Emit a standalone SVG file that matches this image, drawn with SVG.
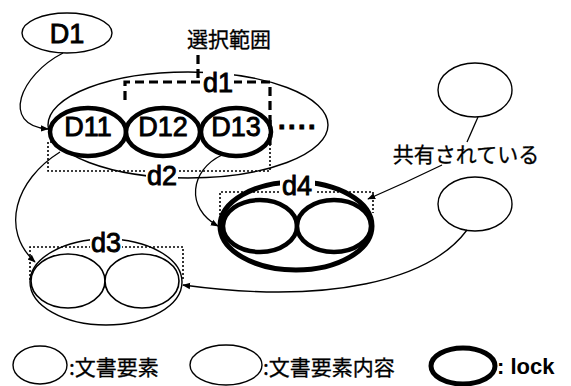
<svg xmlns="http://www.w3.org/2000/svg" width="571" height="386" viewBox="0 0 571 386">
<defs>
<style>
.thin{fill:none;stroke:#000;stroke-width:1.4}
.node{fill:#fff;stroke:#000;stroke-width:1.6}
.lock{fill:#fff;stroke:#000;stroke-width:4.5}
.dot{fill:none;stroke:#000;stroke-width:1.6;stroke-dasharray:2 2}
.dash{fill:none;stroke:#000;stroke-width:3.2;stroke-dasharray:9 5}
.lbl{font-family:"Liberation Sans",Arial,sans-serif;font-size:27px;fill:#000;stroke:#000;stroke-width:0.9;text-anchor:middle}
.wb{fill:#fff}
.jp{font-family:"Noto Sans CJK JP","Noto Sans",sans-serif;fill:#000;stroke:#000;stroke-width:0.3}
.conn{fill:none;stroke:#000;stroke-width:1.3}
</style>
<marker id="ah" viewBox="0 0 10 10" refX="9" refY="5" markerWidth="8" markerHeight="8" orient="auto" markerUnits="userSpaceOnUse">
<path d="M0,1 L10,5 L0,9 z" fill="#000"/>
</marker>
</defs>

<g id="group-d">
<ellipse class="thin" cx="188" cy="125" rx="140" ry="53"/>
</g>

<g id="d1">
<path class="dash" d="M125,100 L125,82 L270,82 L270,145"/>
<path class="dash" d="M198,55 L198,82"/>
<rect class="wb" x="203" y="71" width="31" height="22"/>
<text class="lbl" x="218" y="92">d1</text>
</g>

<g id="d2">
<path class="dot" d="M52,142 L48,142 L48,171 L270,171 L270,142"/>
<rect class="wb" x="146" y="164" width="32" height="22"/>
<text class="lbl" x="162" y="185">d2</text>
</g>

<g id="D11">
<ellipse class="lock" cx="88" cy="132" rx="38" ry="24"/>
<text class="lbl" x="88" y="136">D11</text>
</g>
<g id="D12">
<ellipse class="lock" cx="163" cy="132" rx="37" ry="24"/>
<text class="lbl" x="163" y="136">D12</text>
</g>
<g id="D13">
<ellipse class="lock" cx="236" cy="132" rx="35" ry="24"/>
<text class="lbl" x="236" y="136">D13</text>
</g>
<path class="dash" d="M270,120 L270,145"/>
<text class="lbl" x="298" y="136" style="letter-spacing:1px;font-weight:bold">····</text>

<g id="D1">
<ellipse class="thin" cx="67" cy="33" rx="45" ry="20"/>
<text class="lbl" x="67" y="43">D1</text>
</g>

<g id="label-select">
<text class="jp" x="229" y="47" font-size="21" text-anchor="middle">選択範囲</text>
</g>

<g id="d3">
<ellipse class="thin" cx="106" cy="282" rx="76" ry="43"/>
<ellipse class="node" cx="68" cy="281" rx="37" ry="27"/>
<ellipse class="node" cx="142" cy="281" rx="37" ry="27"/>
<path class="dot" d="M30,280 L30,247 L183,247 L183,280"/>
<rect class="wb" x="90" y="232" width="32" height="21"/>
<text class="lbl" x="106" y="252">d3</text>
</g>

<g id="d4">
<ellipse class="lock" cx="296" cy="226" rx="76" ry="44" style="stroke-width:5"/>
<ellipse class="lock" cx="260" cy="226" rx="37" ry="26"/>
<ellipse class="lock" cx="334" cy="226" rx="37" ry="26"/>
<path class="dot" d="M220,223 L220,192 L373,192 L373,213"/>
<rect class="wb" x="280" y="175" width="35" height="21"/>
<text class="lbl" x="297" y="195">d4</text>
</g>

<g id="shared-top">
<ellipse class="thin" cx="475" cy="90" rx="37" ry="27"/>
</g>
<g id="shared-bottom">
<ellipse class="thin" cx="475" cy="204" rx="37" ry="27"/>
</g>
<g id="label-shared">
<text class="jp" x="466" y="162" font-size="21" text-anchor="middle">共有されている</text>
</g>

<g id="connectors">
<path class="conn" d="M63,53 C20,75 0,125 48,129" marker-end="url(#ah)"/>
<path class="conn" d="M60,152 C15,180 0,230 35,262" marker-end="url(#ah)"/>
<path class="conn" d="M222,155 C190,170 185,208 218,226" marker-end="url(#ah)"/>
<path class="conn" d="M478,117 L467,142"/>
<path class="conn" d="M442,165 Q405,183 368,199" marker-end="url(#ah)"/>
<path class="conn" d="M467,230 C430,280 330,305 183,285" marker-end="url(#ah)"/>
</g>

<g id="legend">
<ellipse class="thin" cx="40" cy="365" rx="27" ry="19"/>
<text class="jp" x="69" y="375" font-size="21">:文書要素</text>
<ellipse class="thin" cx="226" cy="365" rx="36" ry="20"/>
<text class="jp" x="263" y="375" font-size="21">:文書要素内容</text>
<ellipse class="lock" cx="463" cy="366" rx="32" ry="18" style="stroke-width:5"/>
<text x="497" y="374" font-family="'Liberation Sans',Arial,sans-serif" font-size="22" font-weight="bold">: lock</text>
</g>
</svg>
